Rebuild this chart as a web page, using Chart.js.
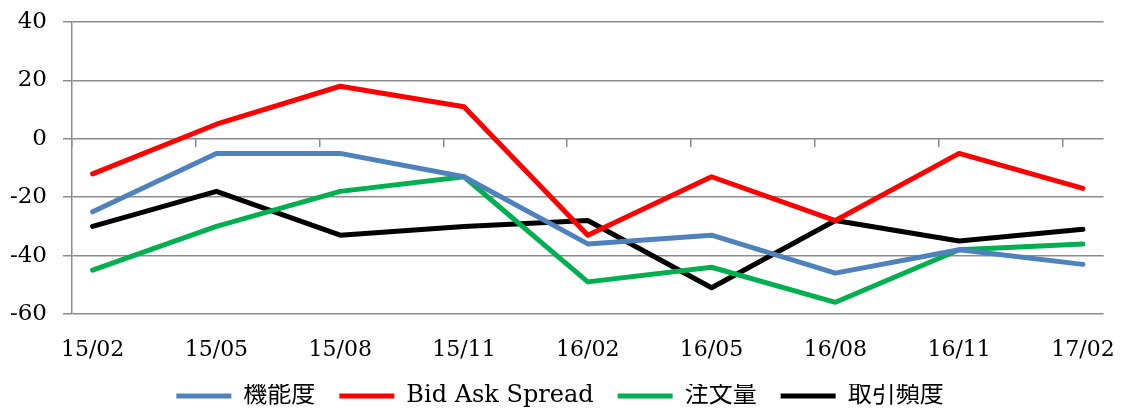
<!DOCTYPE html>
<html>
<head>
<meta charset="utf-8">
<script src="https://cdn.jsdelivr.net/npm/chart.js@4"></script>
<style>
  html, body { margin: 0; padding: 0; background: #ffffff; }
  #wrap { width: 1138px; height: 418px; }
</style>
</head>
<body>
<div id="wrap"><canvas id="chart" width="1138" height="418"></canvas></div>
<script>
// Monthly time slots on the category axis (one slot per month)
const months = [
  '15/02', '15/03', '15/04', '15/05', '15/06', '15/07', '15/08', '15/09', '15/10',
  '15/11', '15/12', '16/01', '16/02', '16/03', '16/04', '16/05', '16/06', '16/07',
  '16/08', '16/09', '16/10', '16/11', '16/12', '17/01', '17/02'
];
// Quarterly observation dates (also the labelled ticks)
const quarters = ['15/02', '15/05', '15/08', '15/11', '16/02', '16/05', '16/08', '16/11', '17/02'];

// Series values (DI)
const kinoudo       = [-25, -5, -5, -13, -36, -33, -46, -38, -43];
const bidAskSpread  = [-12, 5, 18, 11, -33, -13, -28, -5, -17];
const chumonryo     = [-45, -30, -18, -13, -49, -44, -56, -38, -36];
const torihikiHindo = [-30, -18, -33, -30, -28, -51, -28, -35, -31];

// Value axis range
const yMin = -60;
const yMax = 40;
const yStep = 20;

const GRID = '#8c8c8c';
const SERIF = '"DejaVu Serif", "Noto Sans CJK JP", serif';

const toPoints = vals => quarters.map((q, i) => ({ x: q, y: vals[i] }));

const series = [
  { label: '機能度', values: kinoudo, color: '#4f81bd' },
  { label: 'Bid Ask Spread', values: bidAskSpread, color: '#ff0000' },
  { label: '注文量', values: chumonryo, color: '#00b050' },
  { label: '取引頻度', values: torihikiHindo, color: '#000000' }
];

new Chart(document.getElementById('chart'), {
  type: 'line',
  data: {
    labels: months,
    datasets: series.map(s => ({
      label: s.label,
      data: toPoints(s.values),
      borderColor: s.color,
      backgroundColor: s.color,
      borderWidth: 5,
      borderCapStyle: 'round',
      borderJoinStyle: 'round',
      pointRadius: 0,
      pointHoverRadius: 0,
      tension: 0,
      fill: false,
      xAxisID: 'x',
      yAxisID: 'y'
    }))
  },
  options: {
    responsive: false,
    animation: false,
    devicePixelRatio: 1,
    layout: { padding: { left: 0, right: 18, top: 22, bottom: 0 } },
    plugins: {
      tooltip: { enabled: false },
      legend: {
        position: 'bottom',
        labels: {
          usePointStyle: true,
          pointStyle: 'line',
          pointStyleWidth: 55,
          padding: 0,
          color: '#000000',
          font: { family: SERIF, size: 24 },
          generateLabels(chart) {
            const items = Chart.defaults.plugins.legend.labels.generateLabels(chart);
            return items.map((it, i) => {
              if (i < items.length - 1) it.text = it.text + '\u2002\u2002';
              return it;
            });
          }
        }
      }
    },
    scales: {
      x: {
        type: 'category',
        position: 'bottom',
        offset: true,
        grid: { display: false, drawTicks: false },
        border: { display: false },
        ticks: {
          autoSkip: false,
          maxRotation: 0,
          minRotation: 0,
          padding: 23,
          color: '#000000',
          font: { family: SERIF, size: 22 },
          callback(value, index) {
            const lab = months[index];
            return quarters.includes(lab) ? lab : '';
          }
        },
        afterFit(scale) { scale.height = 70; }
      },
      x0: {
        type: 'category',
        position: { y: 0 },
        offset: true,
        grid: {
          drawOnChartArea: false,
          drawTicks: true,
          tickLength: 8,
          lineWidth: 1.5,
          offset: true,
          color: ctx => (ctx.index !== undefined && ctx.index % 3 === 0) ? GRID : 'rgba(0,0,0,0)'
        },
        border: { display: false },
        ticks: { display: false, autoSkip: false },
        afterFit(scale) { scale.height = 0; }
      },
      y: {
        type: 'linear',
        min: yMin,
        max: yMax,
        ticks: {
          stepSize: yStep,
          padding: 16,
          color: '#000000',
          font: { family: SERIF, size: 23 }
        },
        grid: { color: GRID, lineWidth: 1.5, tickLength: 9 },
        border: { display: true, color: GRID, width: 1.5 },
        afterFit(scale) {
          scale.width = 72;
          scale.paddingTop = 0;
          scale.paddingBottom = 0;
        }
      }
    }
  }
});
</script>
</body>
</html>
